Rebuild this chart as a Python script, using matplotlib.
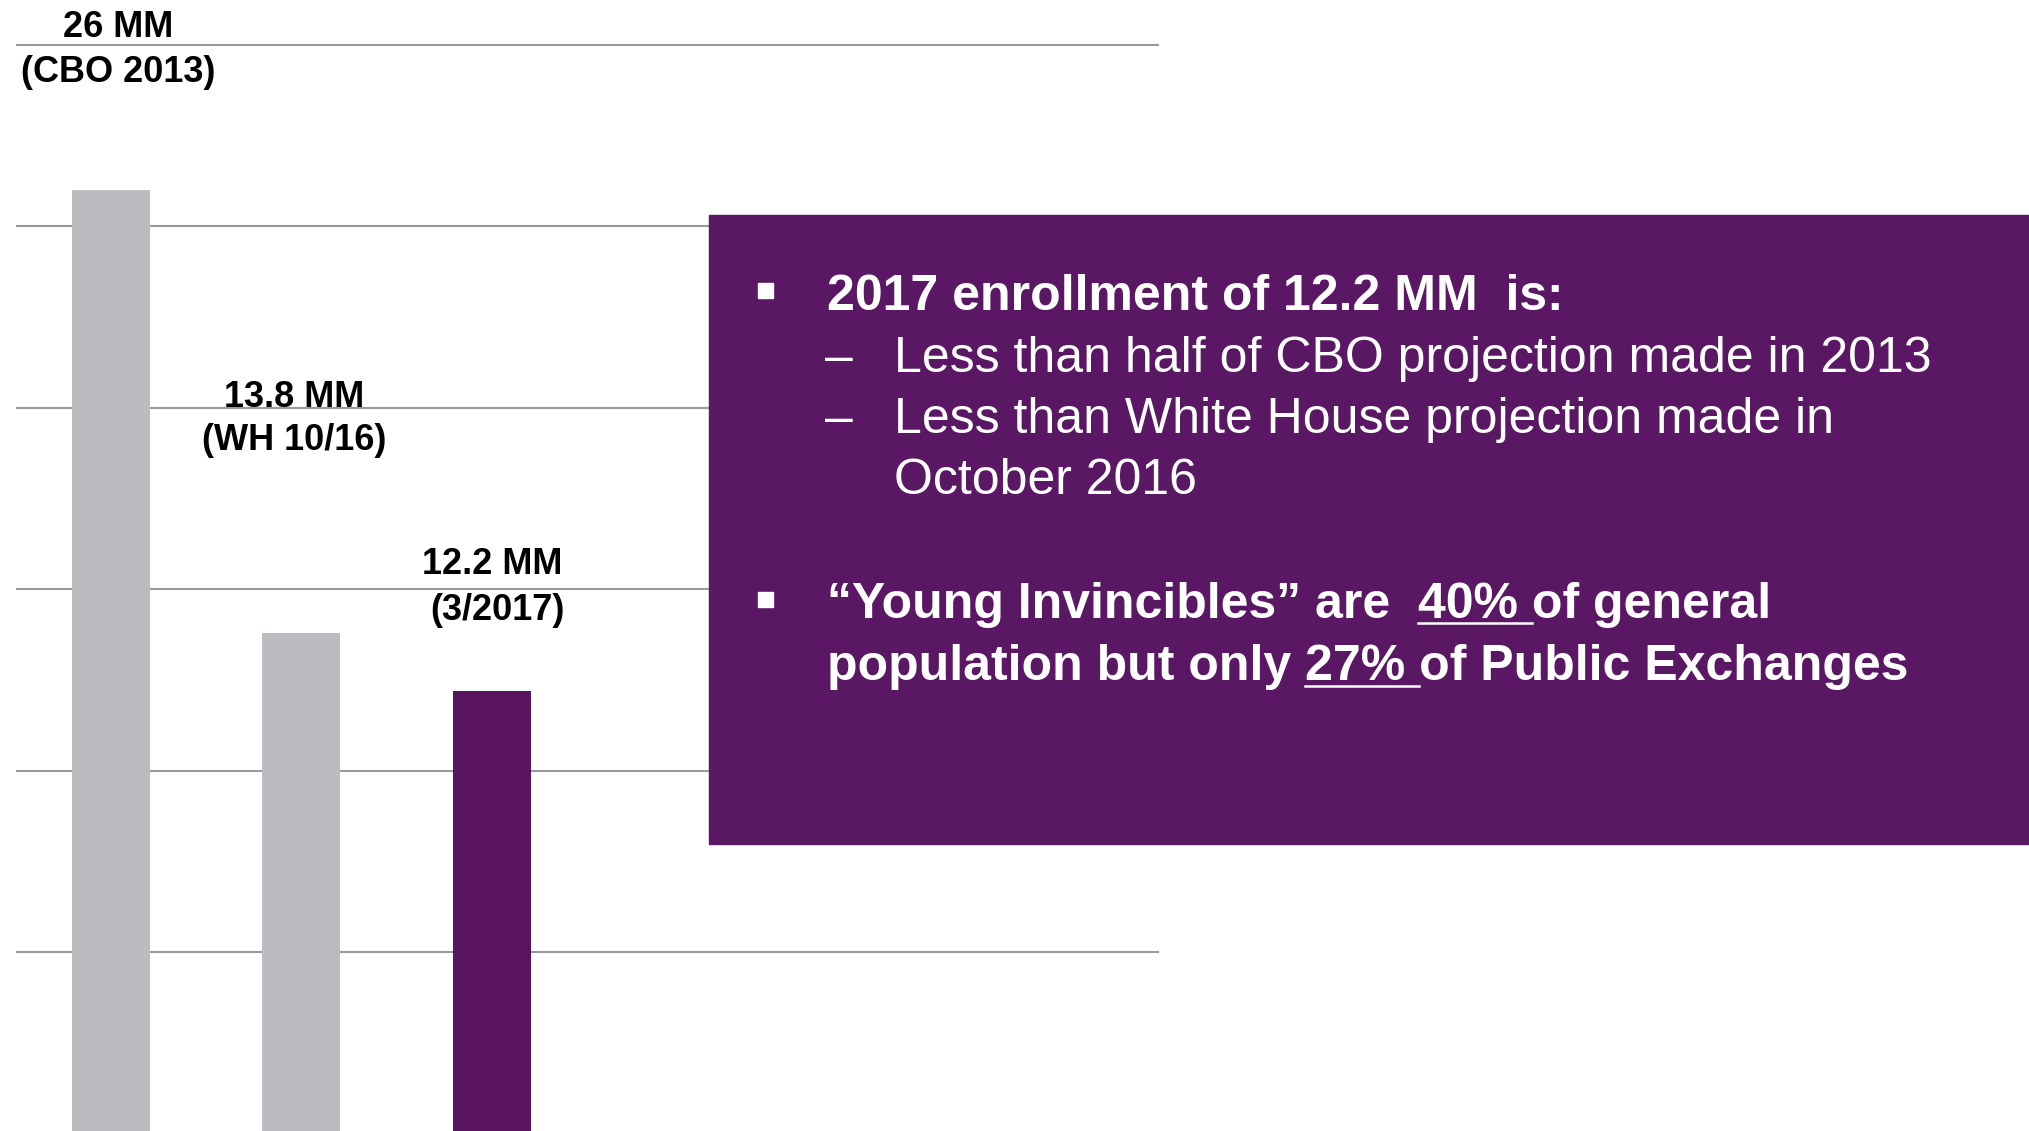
import matplotlib
matplotlib.use('Agg')
import matplotlib.pyplot as plt
from matplotlib.patches import Rectangle
from matplotlib.lines import Line2D
from matplotlib.transforms import blended_transform_factory

plt.rcParams['font.family'] = ['Liberation Sans', 'DejaVu Sans']

# data
categories = ['CBO 2013', 'WH 10/16', '3/2017']
enrollment_mm = [26.0, 13.8, 12.2]
value_labels = ['26 MM', '13.8 MM', '12.2 MM']
source_labels = ['(CBO 2013)', '(WH 10/16)', '(3/2017)']
bar_colors = ['#BBBCC0', '#BBBCC0', '#58145F']
grid_ticks = [5, 10, 15, 20, 25, 30]

W, H = 2029, 1131
PURPLE = '#5A1764'


def fx(px):
    return px / W


def fy(py):
    return 1 - py / H


fig = plt.figure(figsize=(W / 100, H / 100), dpi=100)
ax = fig.add_axes([fx(15.5), 0, 1143.5 / W, 1])

ax.bar(range(len(categories)), enrollment_mm, width=0.41, color=bar_colors, zorder=2)
ax.set_xlim(-0.5, 5.5)
ax.set_ylim(0.066, 31.24)
ax.set_yticks(grid_ticks)
ax.set_xticks([])
ax.grid(axis='y', color='#9a9a9a', lw=1.5, zorder=0)
ax.set_axisbelow(True)
ax.tick_params(length=0, labelleft=False)
for s in ax.spines.values():
    s.set_visible(False)
ax.patch.set_visible(False)

# bar labels (x offset in bar units, baselines in pixels)
trans = blended_transform_factory(ax.transData, fig.transFigure)
value_pos = [(0.04, 37), (-0.04, 407), (0.0, 574)]
source_pos = [(0.04, 82), (-0.036, 450), (0.03, 620)]
for i in range(len(categories)):
    dx, by = value_pos[i]
    ax.text(i + dx, fy(by), value_labels[i], transform=trans, ha='center', va='baseline',
            fontsize=26, fontweight='bold', color='black')
    dx, by = source_pos[i]
    ax.text(i + dx, fy(by), source_labels[i], transform=trans, ha='center', va='baseline',
            fontsize=26, fontweight='bold', color='black')

# purple text box
fig.patches.append(Rectangle((fx(709), fy(844)), (W - 709) / W, (844 - 215) / H,
                             transform=fig.transFigure, color=PURPLE, zorder=3))

renderer = fig.canvas.get_renderer()


def text_w(s, weight):
    t = fig.text(0, 0, s, fontsize=36, fontweight=weight)
    w = t.get_window_extent(renderer).width
    t.remove()
    return w


box_lines = [
    (827, 310, '2017 enrollment of 12.2 MM  is:', 'bold'),
    (894, 372, 'Less than half of CBO projection made in 2013', 'normal'),
    (894, 433, 'Less than White House projection made in', 'normal'),
    (894, 494, 'October 2016', 'normal'),
    (827, 618, '\u201cYoung Invincibles\u201d are  40% of general', 'bold'),
    (827, 680, 'population but only 27% of Public Exchanges', 'bold'),
]
for x, y, s, wt in box_lines:
    fig.text(fx(x), fy(y), s, fontsize=36, fontweight=wt, color='white',
             ha='left', va='baseline', zorder=4)

for y in [372, 433]:
    fig.text(fx(825), fy(y), '\u2013', fontsize=36, color='white',
             ha='left', va='baseline', zorder=4)

for cy in [290.5, 599]:
    fig.patches.append(Rectangle((fx(758), fy(cy + 7.5)), 15 / W, 15 / H,
                                 transform=fig.transFigure, color='white', zorder=4))

# underlines under the percentages
underlines = [
    (827, 623, '\u201cYoung Invincibles\u201d are  ', '40%', ' o'),
    (827, 686, 'population but only ', '27%', ' o'),
]
for x0, uy, prefix, word, after in underlines:
    start = x0 + text_w(prefix + word, 'bold') - text_w(word, 'bold')
    end = x0 + text_w(prefix + word + after, 'bold') - text_w('o', 'bold')
    fig.lines.append(Line2D([fx(start), fx(end)], [fy(uy), fy(uy)], transform=fig.transFigure,
                            color='white', lw=1.8, zorder=4))

fig.savefig('out.png', dpi=100)
